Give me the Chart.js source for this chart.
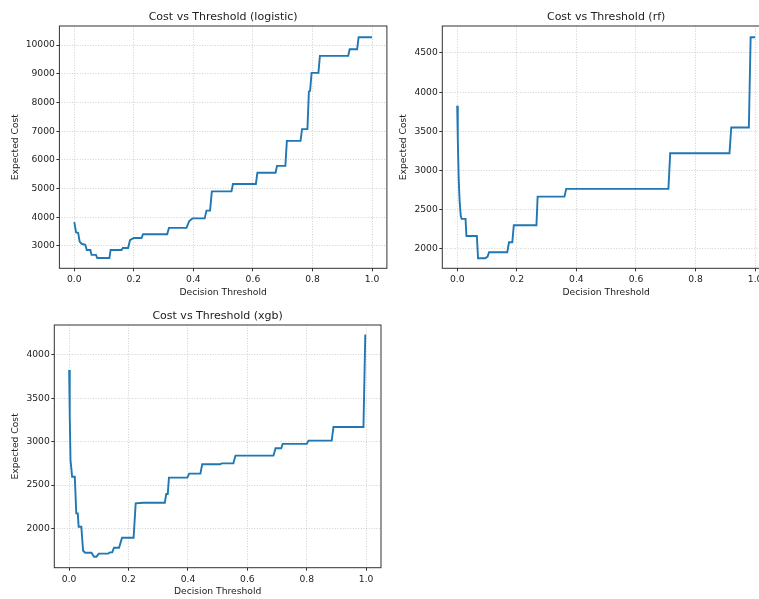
<!DOCTYPE html>
<html>
<head>
<meta charset="utf-8">
<script src="https://cdn.jsdelivr.net/npm/chart.js@4"></script>
<style>
  html, body { margin: 0; padding: 0; background: #fff; }
  body { width: 759px; height: 599px; overflow: hidden; position: relative; }
  canvas { position: absolute; }
</style>
</head>
<body>
<canvas id="logistic"></canvas>
<canvas id="rf"></canvas>
<canvas id="xgb"></canvas>
<script>
// values
const xTicks = [0, 0.2, 0.4, 0.6, 0.8, 1.0];

const logisticThresholds = [0, 0.006, 0.013, 0.018, 0.024, 0.030, 0.037, 0.042, 0.054, 0.058, 0.073, 0.077,
    0.118, 0.122, 0.159, 0.163, 0.181, 0.187, 0.200, 0.226, 0.231, 0.312, 0.318, 0.377, 0.386, 0.397,
    0.438, 0.444, 0.456, 0.462, 0.528, 0.533, 0.610, 0.615, 0.676, 0.681, 0.709, 0.714, 0.760, 0.765,
    0.783, 0.788, 0.792, 0.797, 0.820, 0.825, 0.920, 0.925, 0.950, 0.955, 1.0];
const logisticCost = [3830, 3470, 3460, 3150, 3080, 3060, 3040, 2860, 2860, 2690, 2690, 2580,
    2580, 2860, 2860, 2930, 2930, 3200, 3280, 3280, 3410, 3410, 3630, 3630, 3870, 3960,
    3960, 4230, 4230, 4900, 4900, 5160, 5160, 5550, 5550, 5790, 5790, 6660, 6660, 7070,
    7070, 8380, 8400, 9030, 9030, 9620, 9620, 9850, 9850, 10270, 10270];
const logisticYTicks = [3000, 4000, 5000, 6000, 7000, 8000, 9000, 10000];

const rfThresholds = [0, 0.002, 0.005, 0.008, 0.012, 0.015, 0.028, 0.031, 0.066, 0.070, 0.094, 0.102,
    0.107, 0.168, 0.174, 0.185, 0.190, 0.266, 0.270, 0.360, 0.366, 0.709, 0.715, 0.914, 0.920,
    0.979, 0.985, 1.0];
const rfCost = [3828, 3400, 2900, 2620, 2420, 2383, 2383, 2166, 2166, 1881, 1881, 1902,
    1958, 1958, 2085, 2085, 2302, 2302, 2667, 2667, 2766, 2766, 3221, 3221, 3549,
    3549, 4700, 4700];
const rfYTicks = [2000, 2500, 3000, 3500, 4000, 4500];

const xgbThresholds = [0, 0.002, 0.0046, 0.010, 0.019, 0.024, 0.029, 0.032, 0.041, 0.047, 0.054, 0.075,
    0.084, 0.092, 0.100, 0.131, 0.137, 0.145, 0.151, 0.168, 0.178, 0.217, 0.224, 0.250, 0.322,
    0.327, 0.332, 0.336, 0.398, 0.404, 0.442, 0.448, 0.508, 0.514, 0.553, 0.560, 0.688, 0.695,
    0.714, 0.719, 0.800, 0.806, 0.884, 0.890, 0.991, 0.997, 1.0];
const xgbCost = [3827, 3300, 2788, 2596, 2596, 2173, 2173, 2019, 2019, 1742, 1719, 1719,
    1673, 1673, 1708, 1708, 1723, 1723, 1777, 1777, 1892, 1892, 2288, 2296, 2296,
    2396, 2396, 2585, 2585, 2631, 2631, 2739, 2739, 2750, 2750, 2839, 2839, 2924,
    2924, 2974, 2974, 3012, 3012, 3170, 3170, 4225, 4225];
const xgbYTicks = [2000, 2500, 3000, 3500, 4000];

const FONT = "'DejaVu Sans', sans-serif";
const TEXT = '#222';

// draws the four spines round the plot area
const framePlugin = {
    id: 'frame',
    afterDatasetsDraw(chart) {
        const { ctx, chartArea: a } = chart;
        ctx.save();
        ctx.strokeStyle = '#333';
        ctx.lineWidth = 1;
        ctx.strokeRect(a.left, a.top, a.right - a.left, a.bottom - a.top);
        ctx.restore();
    },
};

function makeChart(p) {
    const canvas = document.getElementById(p.id);
    canvas.width = p.width;
    canvas.height = p.height;
    canvas.style.left = p.left + 'px';
    canvas.style.top = p.top + 'px';
    canvas.style.width = p.width + 'px';
    canvas.style.height = p.height + 'px';

    const grid = {
        color: 'rgba(176,176,176,0.75)',
        lineWidth: 0.8,
        tickLength: 3,
        tickColor: '#333',
        tickWidth: 1,
        tickBorderDash: [],
    };

    return new Chart(canvas, {
        type: 'line',
        data: {
            datasets: [{
                data: p.xs.map((t, i) => ({ x: t, y: p.ys[i] })),
                borderColor: '#1f77b4',
                borderWidth: 1.9,
                pointRadius: 0,
                tension: 0,
                fill: false,
            }],
        },
        options: {
            responsive: false,
            animation: false,
            devicePixelRatio: 1,
            layout: { padding: { top: 0, left: 0, bottom: 0, right: p.padRight } },
            plugins: {
                legend: { display: false },
                tooltip: { enabled: false },
                title: {
                    display: true,
                    text: p.title,
                    fullSize: false,
                    color: TEXT,
                    font: { family: FONT, size: 11, weight: 'normal' },
                    padding: p.titlePad,
                },
            },
            scales: {
                x: {
                    type: 'linear',
                    min: -0.05,
                    max: 1.05,
                    grid: grid,
                    border: { display: false, dash: [1, 1.6] },
                    afterBuildTicks: (s) => { s.ticks = xTicks.map(v => ({ value: v })); },
                    afterFit: (s) => { s.height = p.xAxisHeight; },
                    ticks: {
                        autoSkip: false,
                        maxRotation: 0,
                        padding: 3,
                        color: TEXT,
                        font: { family: FONT, size: 9.2 },
                        callback: (v) => v.toFixed(1),
                    },
                    title: {
                        display: true,
                        text: 'Decision Threshold',
                        color: TEXT,
                        font: { family: FONT, size: 9.2 },
                        padding: { top: 0, bottom: 1.8 },
                    },
                },
                y: {
                    type: 'linear',
                    min: p.yMin,
                    max: p.yMax,
                    grid: grid,
                    border: { display: false, dash: [1, 1.6] },
                    afterBuildTicks: (s) => { s.ticks = p.yTicks.map(v => ({ value: v })); },
                    afterFit: (s) => { s.width = p.yAxisWidth; },
                    ticks: {
                        autoSkip: false,
                        padding: 1.5,
                        color: TEXT,
                        font: { family: FONT, size: 9.2 },
                        callback: (v) => String(v),
                    },
                    title: {
                        display: true,
                        text: 'Expected Cost',
                        color: TEXT,
                        font: { family: FONT, size: 9.2 },
                        padding: { top: p.yTitlePad, bottom: 0 },
                    },
                },
            },
        },
        plugins: [framePlugin],
    });
}

makeChart({
    id: 'logistic', left: 0, top: 0, width: 392, height: 300,
    title: 'Cost vs Threshold (logistic)',
    xs: logisticThresholds, ys: logisticCost, yTicks: logisticYTicks,
    yMin: 2222, yMax: 10662,
    yAxisWidth: 59.4, xAxisHeight: 31.7, padRight: 5.1,
    titlePad: { top: 10.7, bottom: 2.1 }, yTitlePad: 10.2,
});

makeChart({
    id: 'rf', left: 390, top: 0, width: 400, height: 300,
    title: 'Cost vs Threshold (rf)',
    xs: rfThresholds, ys: rfCost, yTicks: rfYTicks,
    yMin: 1753, yMax: 4844,
    yAxisWidth: 52.3, xAxisHeight: 31.7, padRight: 20,
    titlePad: { top: 10.7, bottom: 2.1 }, yTitlePad: 8.5,
});

makeChart({
    id: 'xgb', left: 0, top: 300, width: 392, height: 299,
    title: 'Cost vs Threshold (xgb)',
    xs: xgbThresholds, ys: xgbCost, yTicks: xgbYTicks,
    yMin: 1546, yMax: 4346,
    yAxisWidth: 54.3, xAxisHeight: 31.3, padRight: 11,
    titlePad: { top: 9.1, bottom: 2.7 }, yTitlePad: 10.2,
});
</script>
</body>
</html>
